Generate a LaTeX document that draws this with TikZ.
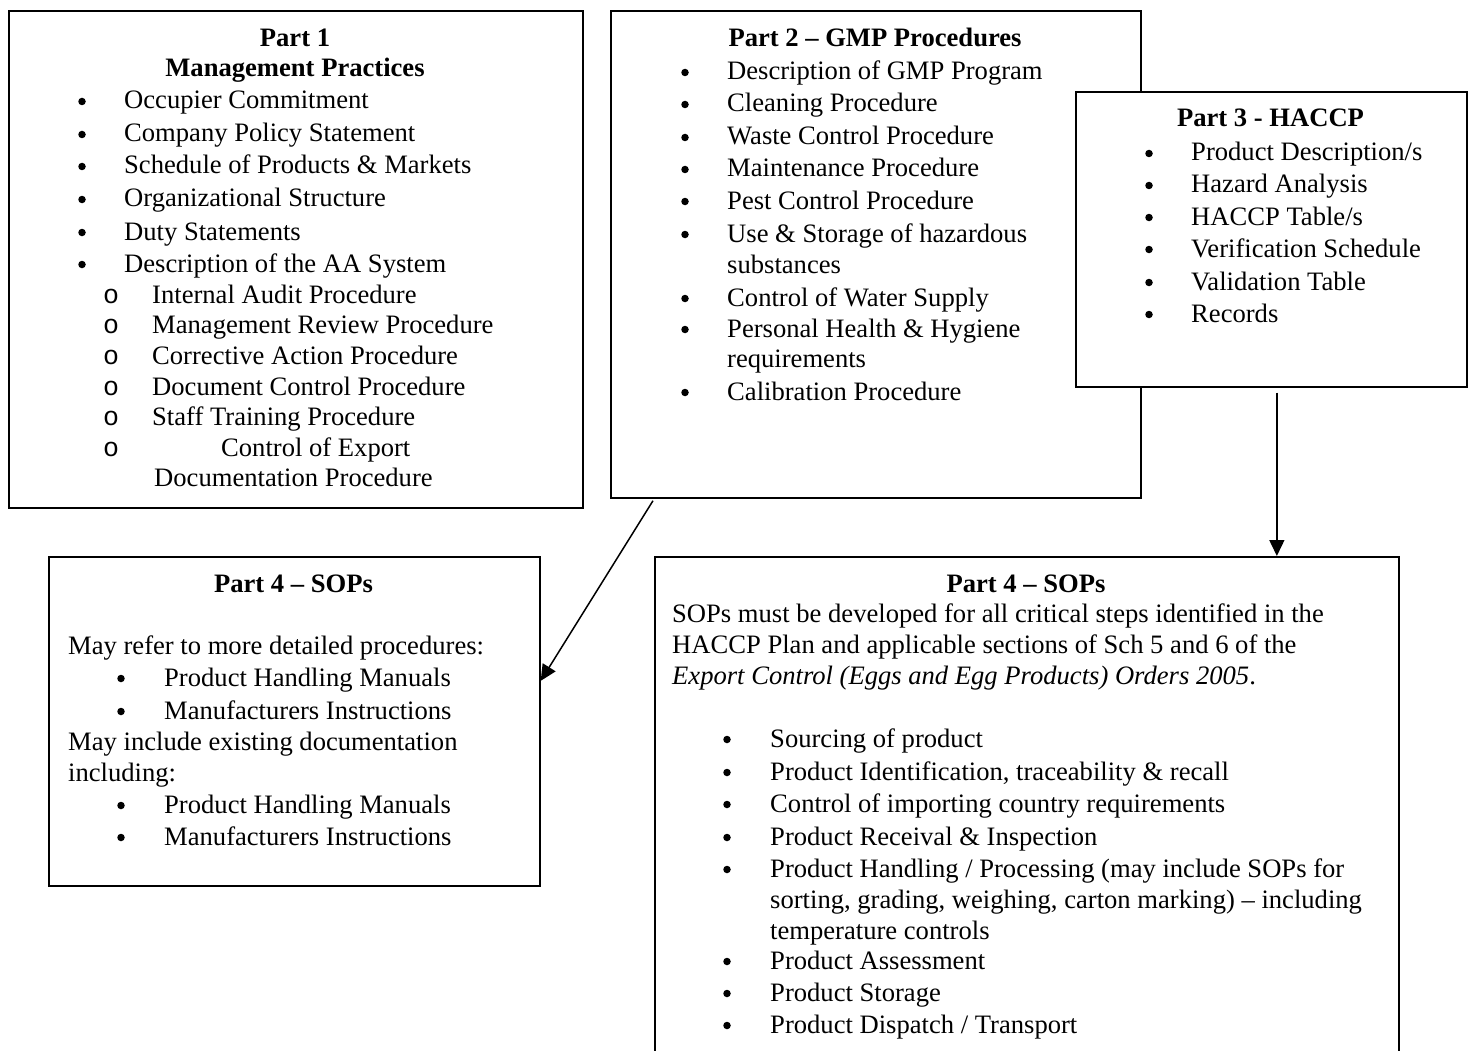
\documentclass[tikz,border=0pt]{standalone}
\usepackage{fontspec}
\setmainfont{Liberation Serif}
\newfontfamily\monofam{Liberation Mono}
\usetikzlibrary{arrows.meta,calc}
\newcommand{\bodysize}{\fontsize{26.6pt}{30pt}\selectfont}
\begin{document}
\begin{tikzpicture}[x=1pt,y=-1pt,
  box/.style={draw, line width=1.7pt, fill=white, rectangle, inner sep=0pt, anchor=north west},
  txt/.style={anchor=base west, inner sep=0pt, font=\bodysize},
  ttl/.style={anchor=base, inner sep=0pt, font=\bodysize\bfseries},
  bul/.style={circle, fill=black, inner sep=0pt, minimum size=7.5pt, yshift=7.5pt},
  subbul/.style={anchor=base, inner sep=0pt, font=\bodysize\monofam},
  arr/.style={line width=1.5pt, -{Triangle[length=16pt,width=15pt]}}]
\useasboundingbox (0,0) rectangle (1471,1051);
\clip (0,0) rectangle (1471,1051);
\fill[white] (0,0) rectangle (1471,1051);

% ---------- Part 1 ----------
\node[box, minimum width=574pt, minimum height=497pt] (p1) at (8,10) {};
\node[ttl] (p1h1) at (295,47) {Part 1};
\node[ttl] (p1h2) at (295,77) {Management Practices};
\foreach \y/\t [count=\i] in {109/{Occupier Commitment}, 142/{Company Policy Statement},
  174/{Schedule of Products \& Markets}, 207/{Organizational Structure},
  240/{Duty Statements}, 272/{Description of the AA System}}{
  \node[bul] (p1b\i) at (82,\y) {};
  \node[txt] (p1t\i) at (124,\y) {\t};
}
\foreach \y/\t [count=\i] in {303/{Internal Audit Procedure}, 333/{Management Review Procedure},
  364/{Corrective Action Procedure}, 395/{Document Control Procedure},
  425/{Staff Training Procedure}}{
  \node[subbul] (p1s\i) at (111,\y) {o};
  \node[txt] (p1u\i) at (152,\y) {\t};
}
\node[subbul] (p1s6) at (111,456) {o};
\node[txt] (p1u6) at (221,456) {Control of Export};
\node[txt] (p1u7) at (154,486) {Documentation Procedure};

% ---------- Part 2 ----------
\node[box, minimum width=530pt, minimum height=487pt] (p2) at (610,10) {};
\node[ttl] (p2h) at (875,47) {Part 2 – GMP Procedures};
\foreach \y/\t [count=\i] in {80/{Description of GMP Program}, 112/{Cleaning Procedure},
  145/{Waste Control Procedure}, 177/{Maintenance Procedure}, 209/{Pest Control Procedure},
  242/{Use \& Storage of hazardous}, 306/{Control of Water Supply},
  337/{Personal Health \& Hygiene}, 400/{Calibration Procedure}}{
  \node[bul] (p2b\i) at (685,\y) {};
  \node[txt] (p2t\i) at (727,\y) {\t};
}
\node[txt] (p2c1) at (727,273) {substances};
\node[txt] (p2c2) at (727,367) {requirements};

% ---------- Part 3 ----------
\node[box, minimum width=391pt, minimum height=295pt] (p3) at (1075,91) {};
\node[ttl] (p3h) at (1270.5,127) {Part 3 - HACCP};
\foreach \y/\t [count=\i] in {161/{Product Description/s}, 193/{Hazard Analysis},
  225/{HACCP Table/s}, 257/{Verification Schedule}, 290/{Validation Table}, 322/{Records}}{
  \node[bul] (p3b\i) at (1149,\y) {};
  \node[txt] (p3t\i) at (1191,\y) {\t};
}

% ---------- Part 4 (left) ----------
\node[box, minimum width=491pt, minimum height=329pt] (p4l) at (48,556) {};
\node[ttl] (p4lh) at (293.5,592) {Part 4 – SOPs};
\node[txt] (p4la) at (68,654) {May refer to more detailed procedures:};
\node[txt] (p4lb) at (68,750) {May include existing documentation};
\node[txt] (p4lc) at (68,781) {including:};
\foreach \y/\t [count=\i] in {686/{Product Handling Manuals}, 719/{Manufacturers Instructions},
  813/{Product Handling Manuals}, 845/{Manufacturers Instructions}}{
  \node[bul] (p4lb\i) at (121,\y) {};
  \node[txt] (p4lt\i) at (164,\y) {\t};
}

% ---------- Part 4 (right) ----------
\node[box, minimum width=744pt, minimum height=530pt] (p4r) at (654,556) {};
\node[ttl] (p4rh) at (1026,592) {Part 4 – SOPs};
\node[txt] (p4ra) at (672,622) {SOPs must be developed for all critical steps identified in the};
\node[txt] (p4rb) at (672,653) {HACCP Plan and applicable sections of Sch 5 and 6 of the};
\node[txt] (p4rc) at (672,684) {\textit{Export Control (Eggs and Egg Products) Orders 2005}.};
\foreach \y/\t [count=\i] in {747/{Sourcing of product},
  780/{Product Identification, traceability \& recall},
  812/{Control of importing country requirements}, 845/{Product Receival \& Inspection},
  877/{Product Handling / Processing (may include SOPs for},
  969/{Product Assessment}, 1001/{Product Storage}, 1033/{Product Dispatch / Transport}}{
  \node[bul] (p4rb\i) at (727,\y) {};
  \node[txt] (p4rt\i) at (770,\y) {\t};
}
\node[txt] (p4rc1) at (770,908) {sorting, grading, weighing, carton marking) – including};
\node[txt] (p4rc2) at (770,939) {temperature controls};

% ---------- connectors ----------
\coordinate (a1s) at ([xshift=43pt,yshift=-2pt]p2.south west);
\coordinate (a1e) at ([yshift=40.5pt]p4l.east);
\draw[arr] (a1s) -- (a1e);
\coordinate (a2s) at ([xshift=5.5pt,yshift=-5pt]p3.south);
\draw[arr] (a2s) -- (a2s |- p4r.north);
\end{tikzpicture}
\end{document}
